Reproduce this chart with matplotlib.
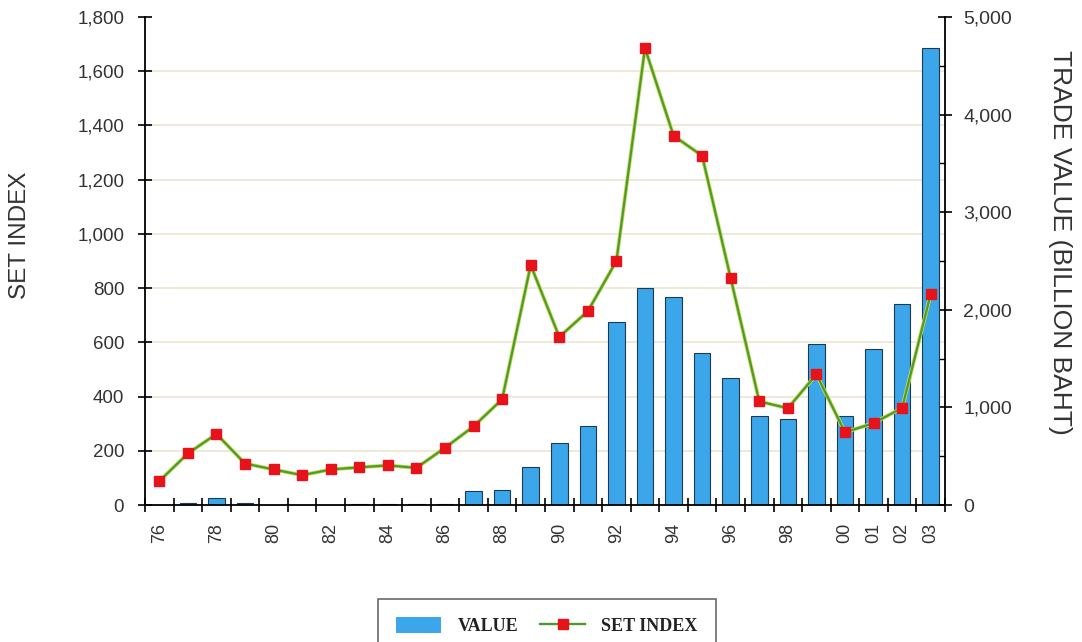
import numpy as np
import matplotlib
matplotlib.use("Agg")
import matplotlib.pyplot as plt
import matplotlib.transforms as mtransforms
import matplotlib.patheffects as pe
from matplotlib.legend_handler import HandlerLine2D
from matplotlib.lines import Line2D
from matplotlib.patches import Patch

plt.rcParams['font.family'] = ['Liberation Sans', 'DejaVu Sans']

years = ['76', '77', '78', '79', '80', '81', '82', '83', '84', '85', '86', '87', '88', '89',
         '90', '91', '92', '93', '94', '95', '96', '97', '98', '99', '00', '01', '02', '03']
tick_labels = ['76', '', '78', '', '80', '', '82', '', '84', '', '86', '', '88', '',
               '90', '', '92', '', '94', '', '96', '', '98', '', '00', '01', '02', '03']
set_index = [88, 190, 262, 153, 131, 110, 131, 139, 146, 137, 211, 290, 390, 885,
             620, 715, 900, 1685, 1362, 1288, 836, 382, 357, 482, 268, 302, 358, 778]
trade_value = [2, 22, 70, 18, 4, 3, 5, 6, 7, 14, 15, 140, 150, 390,
               640, 805, 1880, 2220, 2135, 1555, 1300, 910, 880, 1645, 910, 1595, 2060, 4680]

TXT = '#333333'
BLUE = '#3ba6ea'
GREEN = '#4f9a2c'
RED = '#e8121a'

fig = plt.figure(figsize=(10.82, 6.42), dpi=100)
ax = fig.add_axes([145/1082, 1-505/642, 800/1082, 488/642])
ax2 = ax.twinx()
ax.set_zorder(ax2.get_zorder() + 1)
ax.patch.set_visible(False)

x = np.arange(len(years))

# bars on right axis
ax2.bar(x, trade_value, width=0.58, color=BLUE, edgecolor='#1e3a50', linewidth=0.8, zorder=3)
ax2.set_ylim(0, 5000)
ax2.set_yticks(np.arange(0, 5001, 1000))
ax2.set_yticks(np.arange(500, 5000, 1000), minor=True)
ax2.set_yticklabels([f'{v:,}' for v in range(0, 5001, 1000)])

# set index line on left axis
ax.plot(x, set_index, color=GREEN, lw=1.6, zorder=5,
        path_effects=[pe.Stroke(linewidth=2.8, foreground='#c8dc58'), pe.Normal()])
ax.plot(x, set_index, linestyle='none', marker='s', markersize=7,
        markerfacecolor=RED, markeredgecolor=RED, zorder=6)
ax.set_ylim(0, 1800)
ax.set_yticks(np.arange(0, 1801, 200))
ax.set_yticklabels([f'{v:,}' for v in range(0, 1801, 200)])
ax.set_xlim(-0.5, len(years) - 0.5)

# gridlines (behind bars) at left-axis ticks
blend = mtransforms.blended_transform_factory(ax2.transAxes, ax.transData)
for yv in ax.get_yticks()[1:-1]:
    ax2.plot([0, 1], [yv, yv], transform=blend, color='#ebe6cf', lw=1.2, zorder=1)

# x ticks: boundaries as major, labels at centers as minor
ax.set_xticks(np.arange(len(years) + 1) - 0.5)
ax.set_xticklabels([])
ax.set_xticks(x, labels=tick_labels, minor=True)
ax.tick_params(axis='x', which='major', direction='inout', length=10, width=1.2, color='black')
ax.tick_params(axis='x', which='minor', length=0, pad=13, labelsize=13, labelcolor=TXT,
               labelrotation=90)

ax.tick_params(axis='y', which='major', direction='inout', length=10, width=1.2,
               labelsize=13.5, labelcolor=TXT, pad=10)
ax2.tick_params(axis='y', which='major', direction='inout', length=10, width=1.2,
                labelsize=14, labelcolor=TXT, pad=8)
ax2.tick_params(axis='y', which='minor', direction='in', length=5, width=1.0)

for a in (ax, ax2):
    a.spines['top'].set_visible(False)
    for s in a.spines.values():
        s.set_linewidth(1.3)
        s.set_color('black')
ax.spines['right'].set_visible(False)
ax2.spines['left'].set_visible(False)
ax2.spines['bottom'].set_visible(False)

ax.set_ylabel('SET INDEX', fontsize=17.5, color=TXT, ha='center', va='center')
ax.yaxis.set_label_coords(-0.156, 0.553)
ax2.set_ylabel('TRADE VALUE (BILLION BAHT)', fontsize=19, color=TXT, rotation=270,
               ha='center', va='center')
ax2.yaxis.set_label_coords(1.144, 0.539)


class MarkerLeftHandler(HandlerLine2D):
    def get_xdata(self, legend, xdescent, ydescent, width, height, fontsize):
        xdata = np.array([-xdescent, -xdescent + width])
        return xdata, np.array([-xdescent + 0.12 * width])


h_bar = Patch(facecolor=BLUE, edgecolor='none')
h_line = Line2D([], [], color=GREEN, lw=1.7, marker='s', markersize=7,
                markerfacecolor=RED, markeredgecolor=RED)
leg = fig.legend([h_bar, h_line], ['VALUE', 'SET INDEX'], loc='upper center',
                 bbox_to_anchor=(547/1082, 1-590/642), ncol=2, frameon=True, fancybox=False,
                 prop={'family': 'Liberation Serif', 'weight': 'bold', 'size': 13},
                 handlelength=2.5, handleheight=1.0, handletextpad=0.9, columnspacing=1.2,
                 borderpad=1.0, handler_map={h_line: MarkerLeftHandler()})
leg.get_frame().set_edgecolor('#444444')
leg.get_frame().set_linewidth(1.2)
for t in leg.get_texts():
    t.set_color('#222222')

fig.savefig('out.png', dpi=100, facecolor='white')
